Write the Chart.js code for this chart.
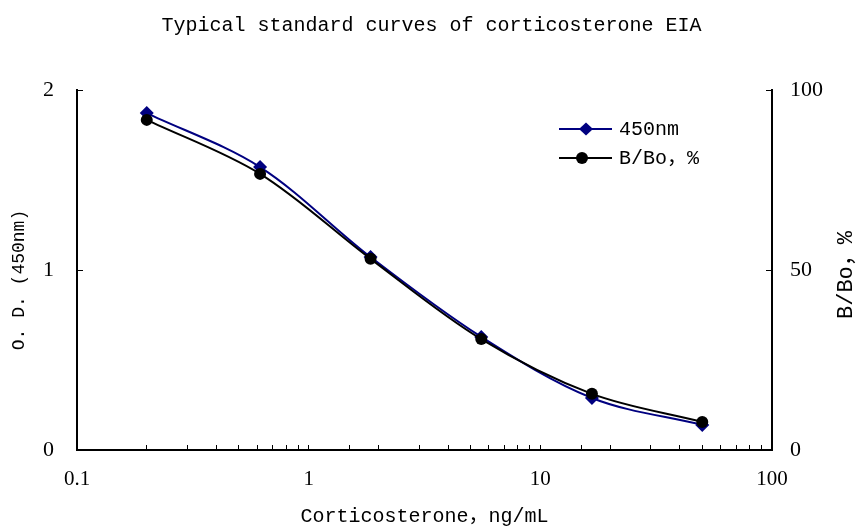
<!DOCTYPE html>
<html>
<head>
<meta charset="utf-8">
<script src="https://cdn.jsdelivr.net/npm/chart.js@4/dist/chart.umd.min.js"></script>
<style>
  html, body { margin: 0; padding: 0; background: #fff; }
  #wrap { width: 863px; height: 527px; }
</style>
</head>
<body>
<div id="wrap"><canvas id="c" width="863" height="527"></canvas></div>
<script>
// ---- data ----
const concentrations = [0.2, 0.617, 1.85, 5.56, 16.7, 50];      // ng/mL
const od450 = [1.872, 1.572, 1.072, 0.628, 0.289, 0.139];        // O.D. (450nm)
const bBo = [91.7, 76.7, 53.1, 30.8, 15.6, 7.8];                 // B/Bo, %
const xTickLabels = [0.1, 1, 10, 100];
const seriesNames = ['450nm', 'B/Bo，%'];
const titleText = 'Typical standard curves of corticosterone EIA';
const xTitle = 'Corticosterone，ng/mL';
const yTitle = 'O. D. (450nm)';
const y1Title = 'B/Bo，%';

const MONO = "'Liberation Mono', 'Noto Sans CJK SC', monospace";
const SERIF = "'Liberation Serif', serif";

const navy = '#000080';
const black = '#000000';

const ds450 = concentrations.map((c, i) => ({ x: c, y: od450[i] }));
const dsB = concentrations.map((c, i) => ({ x: c, y: bBo[i] }));

const overlay = {
  id: 'overlay',
  afterDraw(chart) {
    const ctx = chart.ctx;
    const ya = chart.scales.y;
    ctx.save();
    ctx.fillStyle = '#000';
    ctx.textBaseline = 'middle';
    ctx.textAlign = 'center';
    // left axis title (rotated)
    ctx.save();
    ctx.font = '18px ' + MONO;
    ctx.translate(19, (ya.top + ya.bottom) / 2 + 10);
    ctx.rotate(-Math.PI / 2);
    ctx.fillText(yTitle, 0, 0);
    ctx.restore();
    // right axis title (rotated, reads bottom-to-top)
    ctx.save();
    ctx.font = '22px ' + MONO;
    ctx.translate(846, (ya.top + ya.bottom) / 2 + 5);
    ctx.rotate(-Math.PI / 2);
    ctx.fillText(y1Title, 0, 0);
    ctx.restore();

    // legend
    ctx.font = '20px ' + MONO;
    const items = [
      { name: seriesNames[0], color: navy, shape: 'diamond', y: 129, mx: 586 },
      { name: seriesNames[1], color: black, shape: 'circle', y: 158, mx: 582 }
    ];
    items.forEach(it => {
      ctx.strokeStyle = it.color;
      ctx.lineWidth = 2;
      ctx.beginPath();
      ctx.moveTo(559, it.y);
      ctx.lineTo(612, it.y);
      ctx.stroke();
      ctx.fillStyle = it.color;
      ctx.beginPath();
      if (it.shape === 'diamond') {
        ctx.moveTo(it.mx - 7, it.y);
        ctx.lineTo(it.mx, it.y - 6.5);
        ctx.lineTo(it.mx + 7, it.y);
        ctx.lineTo(it.mx, it.y + 6.5);
        ctx.closePath();
      } else {
        ctx.arc(it.mx, it.y, 6, 0, Math.PI * 2);
      }
      ctx.fill();
      ctx.fillStyle = '#000';
      ctx.textAlign = 'left';
      ctx.fillText(it.name, 619, it.y + 1);
    });
    ctx.restore();
  }
};

new Chart(document.getElementById('c'), {
  type: 'line',
  data: {
    datasets: [
      {
        label: seriesNames[1],
        data: dsB,
        yAxisID: 'y1',
        borderColor: black,
        backgroundColor: black,
        borderWidth: 2,
        pointStyle: 'circle',
        pointRadius: 6,
        pointBorderWidth: 0,
        tension: 0.33,
        fill: false
      },
      {
        label: seriesNames[0],
        data: ds450,
        yAxisID: 'y',
        borderColor: navy,
        backgroundColor: navy,
        borderWidth: 2,
        pointStyle: 'rectRot',
        pointRadius: 7,
        pointBorderWidth: 0,
        tension: 0.33,
        fill: false
      }
    ]
  },
  options: {
    responsive: false,
    animation: false,
    layout: { padding: 0 },
    plugins: {
      legend: { display: false },
      tooltip: { enabled: false },
      title: {
        display: true,
        text: titleText,
        color: '#000',
        font: { family: MONO, size: 20, weight: 'normal', lineHeight: 1.2 },
        padding: { top: 14, bottom: 52 }
      }
    },
    scales: {
      x: {
        type: 'logarithmic',
        position: 'bottom',
        min: 0.1,
        max: 100,
        afterFit(s) { s.height = 77; },
        border: { display: true, color: '#000', width: 2 },
        grid: { display: true, drawOnChartArea: false, color: '#000', lineWidth: 1, tickLength: -5 },
        ticks: {
          autoSkip: false,
          maxRotation: 0,
          color: '#000',
          padding: 24,
          font: { family: SERIF, size: 21, lineHeight: 1 },
          callback(v) {
            const match = xTickLabels.find(t => Math.abs(t - v) < 1e-9);
            return match !== undefined ? String(match) : '';
          }
        },
        title: {
          display: true,
          text: xTitle,
          color: '#000',
          font: { family: MONO, size: 20, lineHeight: 1 },
          padding: 0
        }
      },
      y: {
        position: 'left',
        min: 0,
        max: 2,
        afterFit(s) { s.width = 77; },
        border: { display: true, color: '#000', width: 2 },
        grid: { display: true, drawOnChartArea: false, color: '#000', lineWidth: 1, tickLength: -6 },
        ticks: {
          stepSize: 1,
          color: '#000',
          padding: 29,
          font: { family: SERIF, size: 22, lineHeight: 1 }
        }
      },
      y1: {
        position: 'right',
        min: 0,
        max: 100,
        afterFit(s) { s.width = 91; },
        border: { display: true, color: '#000', width: 2 },
        grid: { display: true, drawOnChartArea: false, color: '#000', lineWidth: 1, tickLength: -6 },
        ticks: {
          stepSize: 50,
          color: '#000',
          padding: 24,
          font: { family: SERIF, size: 22, lineHeight: 1 }
        }
      }
    }
  },
  plugins: [overlay]
});
</script>
</body>
</html>
